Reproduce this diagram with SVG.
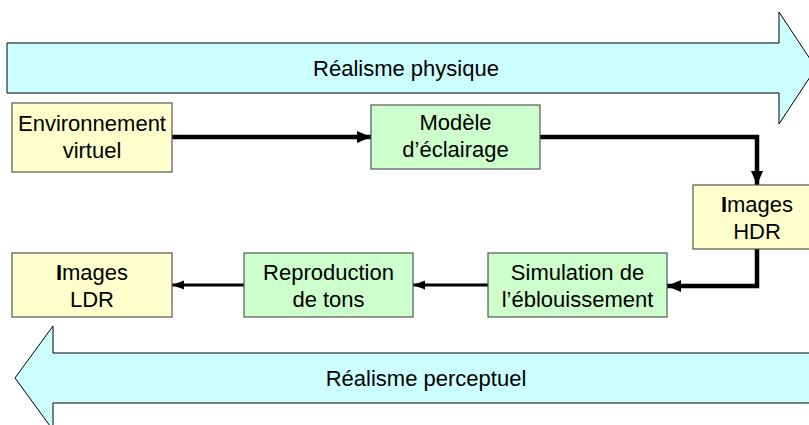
<svg xmlns="http://www.w3.org/2000/svg" width="809" height="425" viewBox="0 0 809 425">
<style>
text{font-family:"Liberation Sans",Arial,sans-serif;font-size:22px;fill:#000;text-anchor:middle}
.big{fill:#CCFFFF;stroke:#000;stroke-width:1}
.y{fill:#FFFFCC;stroke:#555;stroke-width:1.2}
.g{fill:#CCFFCC;stroke:#555;stroke-width:1.2}
.c{fill:none;stroke:#000}
.thick{stroke-width:4.5}
.thin{stroke-width:3}
</style>
<defs>
<marker id="ah" markerUnits="userSpaceOnUse" markerWidth="14" markerHeight="14" viewBox="0 0 14 14" refX="14" refY="7" orient="auto">
<path d="M0,1 L14,7 L0,13 Z" fill="#000"/>
</marker>
<marker id="ahs" markerUnits="userSpaceOnUse" markerWidth="12" markerHeight="12" viewBox="0 0 12 12" refX="12" refY="6" orient="auto">
<path d="M0,1.5 L12,6 L0,10.5 Z" fill="#000"/>
</marker>
</defs>
<g id="arrow-physique">
<polygon class="big" points="7,43 779,43 779,12 816,68 779,124 779,93 7,93"/>
<text x="406" y="76">Réalisme physique</text>
</g>
<g id="arrow-perceptuel">
<polygon class="big" points="815,353 53,353 53,326 15,378 53,430 53,403 815,403"/>
<text x="426" y="386">Réalisme perceptuel</text>
</g>
<g id="connectors">
<path class="c thick" d="M172,137 H371" marker-end="url(#ah)"/>
<path class="c thick" d="M540,137 H757 V185" marker-end="url(#ah)"/>
<path class="c thick" d="M757,249 V286 H667" marker-end="url(#ah)"/>
<path class="c thin" d="M488,285 H413" marker-end="url(#ahs)"/>
<path class="c thin" d="M244,285 H172" marker-end="url(#ahs)"/>
</g>
<g id="env">
<rect class="y" x="12" y="103" width="160" height="69"/>
<text x="92" y="131">Environnement</text>
<text x="92" y="158">virtuel</text>
</g>
<g id="modele">
<rect class="g" x="371" y="105" width="169" height="64"/>
<text x="455.5" y="130">Modèle</text>
<text x="455.5" y="157">d’éclairage</text>
</g>
<g id="hdr">
<rect class="y" x="693" y="185" width="128" height="64"/>
<text x="757" y="212"><tspan font-weight="bold">I</tspan>mages</text>
<text x="757" y="239">HDR</text>
</g>
<g id="simulation">
<rect class="g" x="488" y="253" width="179" height="64"/>
<text x="577.5" y="280">Simulation de</text>
<text x="577.5" y="307">l’éblouissement</text>
</g>
<g id="reproduction">
<rect class="g" x="244" y="253" width="169" height="64"/>
<text x="328.5" y="280">Reproduction</text>
<text x="328.5" y="307">de tons</text>
</g>
<g id="ldr">
<rect class="y" x="12" y="253" width="160" height="64"/>
<text x="92" y="280"><tspan font-weight="bold">I</tspan>mages</text>
<text x="92" y="307">LDR</text>
</g>
</svg>
